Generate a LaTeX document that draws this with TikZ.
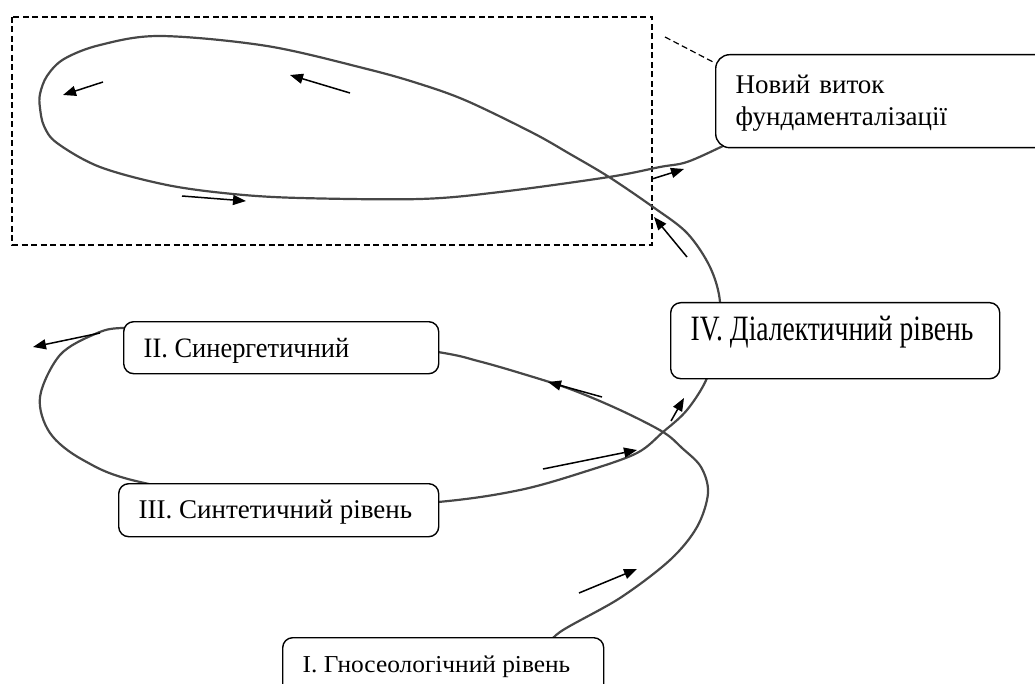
\documentclass[tikz,border=0pt]{standalone}
\usepackage{fontspec}
\setmainfont{Liberation Serif}
\usetikzlibrary{arrows.meta,calc}
\newcommand\lbx[2]{\makebox[#1][l]{#2}}
\begin{document}
\begin{tikzpicture}[x=1pt,y=-1pt,
  box/.style={draw, line width=1.4pt, rounded corners=10pt, fill=white, anchor=north west,
    inner xsep=20pt, inner ysep=8pt, font=\fontsize{27}{32}\selectfont},
  spiral/.style={line width=2.2pt, draw=black!72},
  arr/.style={line width=1.5pt, -{Triangle[length=13pt,width=10pt]}},
  frame/.style={line width=1.2pt, dash pattern=on 6pt off 3.5pt},
]
\useasboundingbox (0,0) rectangle (1035,684);

% dashed frame
\draw[frame] (12,17) rectangle (652,245);

% spiral
\draw[spiral] plot[smooth, tension=0.55] coordinates {
 (545,650) (560,632) (620,598) (670,560) (697,527) (708,493) (701,467) (682,448)
 (663,432) (620,410) (570,389) (520,373) (478,361) (438,352) (300,331) (180,331)
 (122,328) (95,334) (60,355) (40,397) (50,433) (83,460) (140,482) (300,510)
 (438,502) (520,490) (587,471) (637,453) (663,432) (687,410) (707,378) (716,340)
 (720,302) (710,267) (687,233) (653,207) (609,177) (570,154) (533,133) (467,101) (420,84)
 (367,69) (267,46) (160,36) (100,45) (64,59) (47,76) (40,94) (40,108) (44,126) (57,143)
 (100,167) (167,185) (233,194) (300,198) (420,199) (500,192) (609,177) (660,167)
 (687,162) (723,146) (745,135)};

% boxes
\node[box, text height=28pt, text depth=8pt] (s2) at (123,321) {\lbx{275pt}{\scalebox{0.98}[1.04]{II. Синергетичний}}};
\node[box, text height=27pt, text depth=10pt] (s3) at (118,483) {\lbx{280pt}{III. Синтетичний рівень}};
\node[box, text height=30pt, text depth=30pt] (s4) at (670,302) {\lbx{289pt}{\scalebox{1.02}[1.32]{IV. Діалектичний рівень}}};
\node[box, text height=27pt, text depth=20pt] (s1) at (282,637) {\lbx{281pt}{\scalebox{0.94}[0.9]{I. Гносеологічний рівень}}};
\node[box, rounded corners=14pt, align=left, text width=300pt, text height=31pt, text depth=46pt] (nv) at (715,54) {Новий виток\\фундаменталізації};

% leader line
\coordinate (lead) at (665,37);
\draw[frame] (lead) -- ($(nv.north west)+(0,9)$);

% direction arrows
\draw[arr] (103,82) -- (63,95);
\draw[arr] (350,93) -- (290,75);
\draw[arr] (182,196) -- (246,201);
\draw[arr] (652,179) -- (684,169);
\draw[arr] (687,257) -- (654,217);
\draw[arr] (671,421) -- (684,398);
\draw[arr] (100,333) -- (33,347);
\draw[arr] (602,397) -- (548,382);
\draw[arr] (543,469) -- (637,450);
\draw[arr] (579,593) -- (637,569);
\end{tikzpicture}
\end{document}
